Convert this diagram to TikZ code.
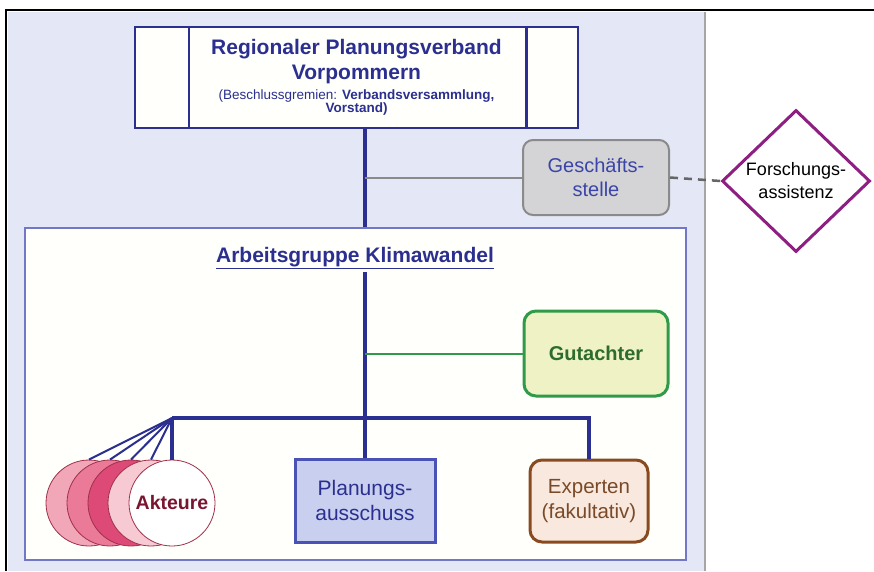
\documentclass[tikz,border=0pt]{standalone}
\usepackage{fontspec}
\setmainfont{Liberation Sans}
\usetikzlibrary{shapes.geometric}

\definecolor{panel}{HTML}{E4E7F6}
\definecolor{navy}{HTML}{2B2F8F}
\definecolor{agline}{HTML}{7377C7}
\definecolor{cream}{HTML}{FFFFFC}
\definecolor{gsfill}{HTML}{D4D4D6}
\definecolor{gsline}{HTML}{8A8A8A}
\definecolor{gstext}{HTML}{3B45A8}
\definecolor{gutfill}{HTML}{EEF2C4}
\definecolor{gutline}{HTML}{2F9B48}
\definecolor{guttext}{HTML}{2E6B2E}
\definecolor{planfill}{HTML}{C9D0EF}
\definecolor{planline}{HTML}{4A52B5}
\definecolor{expfill}{HTML}{F8E8DE}
\definecolor{expline}{HTML}{8A4A20}
\definecolor{exptext}{HTML}{7A4A28}
\definecolor{fapurple}{HTML}{8E1E82}
\definecolor{aktA}{HTML}{F2A7B8}
\definecolor{aktB}{HTML}{EA7A98}
\definecolor{aktC}{HTML}{DE4A78}
\definecolor{aktD}{HTML}{F6C9D3}
\definecolor{aktE}{HTML}{FFFFFF}
\definecolor{aktline}{HTML}{A0304A}
\definecolor{akttext}{HTML}{7A1530}

\begin{document}
\begin{tikzpicture}[x=1pt,y=-1pt,
		box/.style={draw, line width=2.5pt, align=center, inner sep=0pt},
		trunk/.style={draw=navy, line width=3.5pt},
		akt/.style={circle, draw=aktline, line width=0.8pt, minimum size=86pt, inner sep=0pt}]
		\useasboundingbox (0,0) rectangle (874,571);
		\fill[white] (0,0) rectangle (874,571);
		
		% panel and frame
		\fill[panel] (8,12) rectangle (705,571);
		\draw[gray!70, line width=2pt] (705,12) -- (705,571);
		\draw[black, line width=2.5pt] (5,10) -- (874,10);
		\draw[black, line width=2.5pt] (6,10) -- (6,571);
		
		% Planungsverband
		\node[box, draw=navy, fill=cream, minimum width=443pt, minimum height=101pt, text=navy,
			font=\fontsize{21}{25}\selectfont] (rpv) at (356.5,77.5)
			{\bfseries Regionaler Planungsverband\\
			 \bfseries Vorpommern\\[-5pt]
			 \fontsize{13.5}{13}\selectfont (Beschlussgremien: \textbf{Verbandsversammlung,}\\[-12pt]
			 \fontsize{13.5}{13}\selectfont\bfseries Vorstand)};
		\draw[navy, line width=2.5pt] ([xshift=55pt]rpv.north west) -- ([xshift=55pt]rpv.south west);
		\draw[navy, line width=2.5pt] ([xshift=-53pt]rpv.north east) -- ([xshift=-53pt]rpv.south east);
		
		% Arbeitsgruppe
		\node[draw=agline, line width=2pt, fill=cream, minimum width=661pt, minimum height=332pt] (ag) at (355.5,394) {};
		\node[text=navy, font=\fontsize{21}{24}\selectfont\bfseries] (agtitle) at (355,258) {\underline{Arbeitsgruppe Klimawandel}};
		
		% Geschaeftsstelle and Forschungsassistenz
		\node[box, rounded corners=10pt, draw=gsline, line width=2pt, fill=gsfill, minimum width=146pt, minimum height=75pt, text=gstext,
			font=\fontsize{20}{24}\selectfont] (gs) at (596,177.5) {Geschäfts-\\stelle};
		\node[diamond, draw=fapurple, line width=3pt, fill=white, minimum width=148pt, minimum height=142pt, inner sep=0pt, align=center,
			font=\fontsize{18}{23}\selectfont] (fa) at (796,181) {Forschungs-\\assistenz};
		
		% Gutachter
		\node[box, rounded corners=12pt, draw=gutline, line width=3pt, fill=gutfill, minimum width=144pt, minimum height=85pt, text=guttext,
			font=\fontsize{20}{24}\selectfont\bfseries] (gut) at (596,353.5) {Gutachter};
		
		% Planungsausschuss and Experten
		\node[box, draw=planline, line width=3pt, fill=planfill, minimum width=140pt, minimum height=83pt, text=navy,
			font=\fontsize{21}{25}\selectfont] (plan) at (365,500.5) {Planungs-\\ausschuss};
		\node[box, rounded corners=12pt, draw=expline, line width=3pt, fill=expfill, minimum width=118pt, minimum height=82pt, text=exptext,
			font=\fontsize{20.5}{25}\selectfont] (exp) at (589,501) {Experten\\(fakultativ)};
		
		% Akteure
		\node[akt, fill=aktA] (akt1) at (89,503) {};
		\node[akt, fill=aktB] (akt2) at (110,503) {};
		\node[akt, fill=aktC] (akt3) at (131,503) {};
		\node[akt, fill=aktD] (akt4) at (151,503) {};
		\node[akt, fill=aktE, text=akttext, font=\fontsize{19.5}{22}\selectfont\bfseries] (akt5) at (172,503) {Akteure};
		
		% connectors
		\coordinate (top) at (rpv.south -| plan.north);
		\draw[trunk] (top) -- (top |- ag.north);
		\draw[trunk] (agtitle.south -| plan.north) -- (plan.north);
		\draw[gsline, line width=2pt] (gs.west) -- (gs.west -| plan.north);
		\draw[gray!80!black, line width=2.5pt, dash pattern=on 8pt off 6pt] (gs.east) -- (fa.west);
		\draw[gutline, line width=2pt] (gut.west) -- (gut.west -| plan.north);
		\coordinate (fan) at (172,418);
		\draw[trunk] (fan) -- (fan -| exp.north) -- (exp.north);
		\draw[trunk] (fan) -- (akt5.north);
		\foreach \i in {1,...,4}
			\draw[navy, line width=2pt] (fan) -- (akt\i.north);
			
		\end{tikzpicture}
\end{document}
